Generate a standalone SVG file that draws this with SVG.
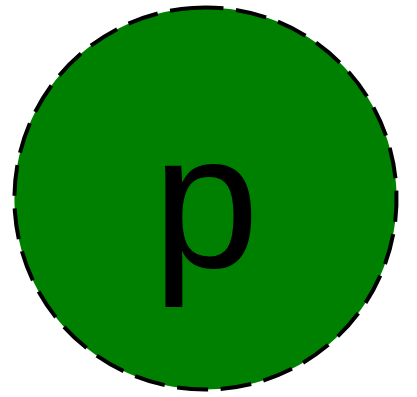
<svg xmlns="http://www.w3.org/2000/svg" width="417" height="397" viewBox="0 0 417 397">
<style>
.node{fill:#008000;stroke:#000;stroke-width:4;stroke-dasharray:31 12.6}
.lbl{font-family:"Liberation Sans",Arial,sans-serif;font-size:192px;fill:#000}
</style>
<rect width="417" height="397" fill="#fff"/>
<g id="connectors"/>
<g id="node-p">
<path class="node" d="M192.5 7.94 A191 191 0 1 1 218.5 389.06 A191 191 0 1 1 192.5 7.94 Z"/>
<text class="lbl" x="206" y="267" text-anchor="middle">p</text>
</g>
</svg>
